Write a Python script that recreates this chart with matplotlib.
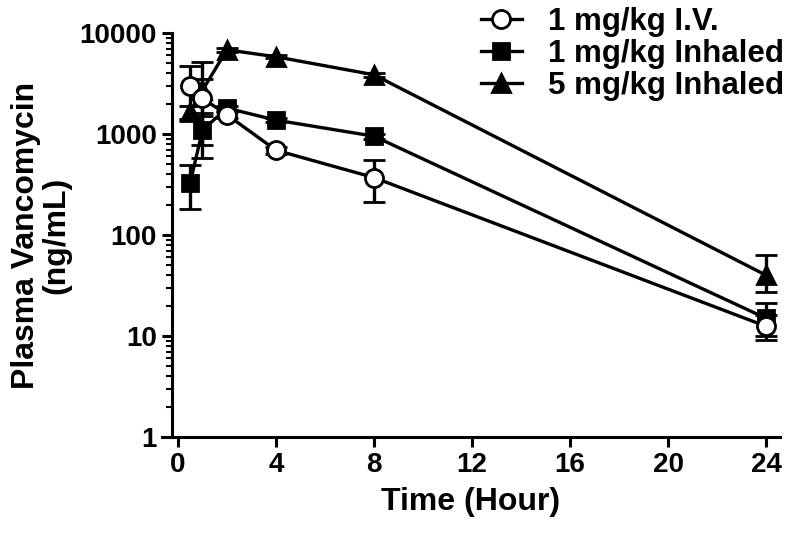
import matplotlib
matplotlib.use("Agg")
import matplotlib.pyplot as plt
import numpy as np

plt.rcParams.update({"font.family": "Liberation Sans", "font.weight": "bold",
                     "axes.linewidth": 2.2})

# sampling times (hours)
hours = [0.5, 1, 2, 4, 8, 24]

# 1 mg/kg I.V. : mean, lower bound, upper bound (ng/mL)
iv_mean = [3000, 2250, 1550, 690, 370, 12.5]
iv_low = [1380, 1500, 1450, 640, 212, 9.1]
iv_high = [4700, 5160, 1650, 740, 553, 16]

# 1 mg/kg inhaled
inh1_mean = [327, 1090, 1800, 1370, 950, 15]
inh1_low = [180, 580, 1700, 1300, 900, 10]
inh1_high = [490, 1600, 1900, 1440, 1000, 21.3]

# 5 mg/kg inhaled
inh5_mean = [1650, 2700, 6800, 5800, 3850, 40]
inh5_low = [1400, 780, 6500, 5600, 3700, 27.3]
inh5_high = [1900, 3500, 7100, 6000, 4000, 63]

series = [
    ("1 mg/kg Inhaled", inh1_mean, inh1_low, inh1_high, "s", "black", 12),
    ("5 mg/kg Inhaled", inh5_mean, inh5_low, inh5_high, "^", "black", 13),
    ("1 mg/kg I.V.", iv_mean, iv_low, iv_high, "o", "white", 13),
]

fig = plt.figure(figsize=(8, 5.39), dpi=100)
ax = fig.add_axes([0.2025, 0.189, 0.7725, 0.75])

handles = {}
for i, (lab, m, lo, hi, mk, fc, ms) in enumerate(series):
    m = np.array(m); lo = np.array(lo); hi = np.array(hi)
    eb = ax.errorbar(hours, m, yerr=[m - lo, hi - m], color="black", lw=2.4,
                     elinewidth=2.4, capsize=8, capthick=2.4, marker=mk, ms=ms,
                     mfc=fc, mec="black", mew=2, zorder=3 + i, label=lab)
    handles[lab] = eb[0]

ax.set_yscale("log")
ax.set_ylim(1, 10000)
ax.set_xlim(-0.65, 24.57)
ax.set_xticks([0, 4, 8, 12, 16, 20, 24])
ax.set_yticks([1, 10, 100, 1000, 10000])
ax.set_yticklabels(["1", "10", "100", "1000", "10000"])
ax.spines["top"].set_visible(False)
ax.spines["right"].set_visible(False)
ax.spines["left"].set_position(("data", -0.245))
ax.tick_params(axis="both", which="major", width=2.2, length=7, labelsize=20, pad=4)
ax.tick_params(axis="y", which="minor", width=1.5, length=4.5)
for t in ax.get_xticklabels() + ax.get_yticklabels():
    t.set_fontweight("bold")

ax.set_xlabel("Time (Hour)", fontsize=23, fontweight="bold", labelpad=6)
ax.set_ylabel("Plasma Vancomycin\n(ng/mL)", fontsize=23, fontweight="bold",
              labelpad=6, linespacing=1.0)

order = ["1 mg/kg I.V.", "1 mg/kg Inhaled", "5 mg/kg Inhaled"]
fig.legend([handles[k] for k in order], order, loc="upper left",
           bbox_to_anchor=(0.566, 1.04), frameon=False,
           handlelength=1.3, handletextpad=0.85, labelspacing=0.07,
           prop={"weight": "bold", "size": 22.5})

fig.savefig("out.png", dpi=100)
